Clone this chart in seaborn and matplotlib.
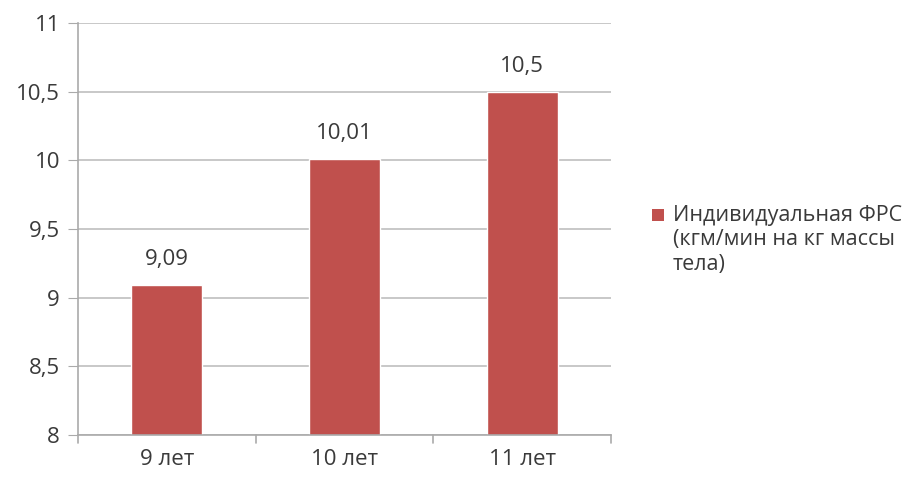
import matplotlib
matplotlib.use("Agg")
import matplotlib.pyplot as plt
import seaborn as sns
import pandas as pd
from matplotlib.patches import Patch, Rectangle
from matplotlib.legend_handler import HandlerPatch

categories = ["9 лет", "10 лет", "11 лет"]
values = [9.09, 10.01, 10.5]
value_labels = ["9,09", "10,01", "10,5"]
yticks = [8, 8.5, 9, 9.5, 10, 10.5, 11]
ytick_labels = ["8", "8,5", "9", "9,5", "10", "10,5", "11"]
series_name = "Индивидуальная ФРС\n(кгм/мин на кг массы\nтела)"

sns.set_style("white")
plt.rcParams['font.family'] = ['Open Sans', 'DejaVu Sans']

FS = 16
LFS = 15.5
TXT = "#3A3A3A"

df = pd.DataFrame({"cat": categories, "val": values})
fig = plt.figure(figsize=(9.19, 4.79), dpi=100)
ax = fig.add_axes([0.085, 0.092, 0.580, 0.86])
bar_color = "#C0504D"
sns.barplot(data=df, x="cat", y="val", color=bar_color, width=0.4, ax=ax, saturation=1)

ax.set_ylim(8, 11)
ax.set_xlim(-0.5, 2.5)
ax.set_yticks(yticks)
ax.set_yticklabels(ytick_labels, fontsize=FS, color=TXT)
ax.set_xlabel("")
ax.set_ylabel("")
ax.tick_params(axis="x", labelsize=FS, colors=TXT, length=0, pad=10)
ax.tick_params(axis="y", length=7, color="#AAAAAA", direction="out", left=True, pad=6)
ax.yaxis.grid(True, color="#BFBFBF", linewidth=1.2)
ax.set_axisbelow(True)
for s in ["top", "right"]:
    ax.spines[s].set_visible(False)
for s in ["left", "bottom"]:
    ax.spines[s].set_color("#AAAAAA")
    ax.spines[s].set_linewidth(1.2)

# category boundary ticks on x axis
for b in [-0.5, 0.5, 1.5, 2.5]:
    ax.plot([b, b], [0, -0.02], transform=ax.get_xaxis_transform(), color="#AAAAAA",
            linewidth=1.2, clip_on=False)

for i, (v, lab) in enumerate(zip(values, value_labels)):
    ax.text(i, v + 0.11, lab, ha="center", va="bottom", fontsize=FS, color=TXT)


class TopSquare(HandlerPatch):
    def create_artists(self, legend, orig_handle, xdescent, ydescent, width, height,
                       fontsize, trans):
        side = 0.58 * fontsize
        off = 1.2 * fontsize
        p = Rectangle((-xdescent + width - side, -ydescent + off), side, side,
                      facecolor=orig_handle.get_facecolor(), edgecolor="none",
                      transform=trans)
        return [p]


handle = Patch(facecolor=bar_color, edgecolor="none")
leg = fig.legend([handle], [series_name], loc="upper left", bbox_to_anchor=(0.684, 0.612),
                 frameon=False, fontsize=LFS, handlelength=0.75, handleheight=0.6,
                 handletextpad=0.4, labelcolor=TXT, handler_map={Patch: TopSquare()})
for t in leg.get_texts():
    t.set_linespacing(1.2)

fig.savefig("out.png", dpi=100, facecolor="white")
